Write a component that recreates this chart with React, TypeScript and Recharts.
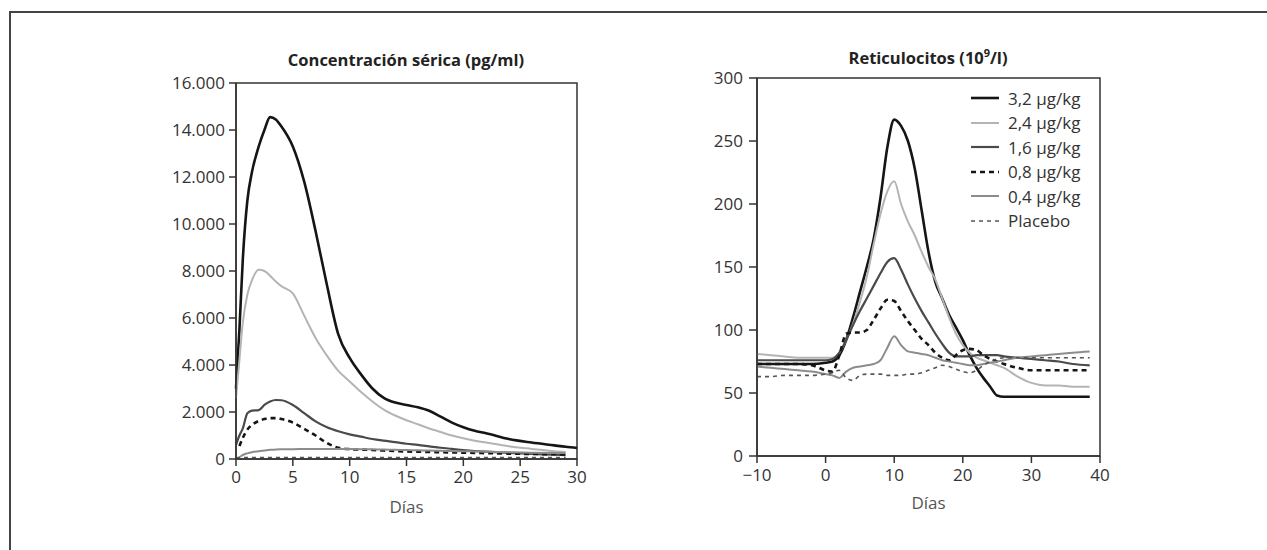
import React from 'react'
import {
  LineChart,
  Line,
  XAxis,
  YAxis,
  Legend,
  ReferenceArea
} from 'recharts'

// serum concentration (pg/ml), days 0-30
const serumDays = [
  0, 0.3, 0.6, 1, 1.4, 2, 2.5, 3, 3.5, 4, 5, 6, 7, 8, 9, 10, 11, 12, 13, 14,
  15, 16, 17, 18, 19, 20, 21, 22, 24, 26, 28, 29, 30
]
const serum32 = [
  3000, 5500, 8500, 11000, 12200, 13300, 14000, 14550, 14450, 14150, 13300,
  11800, 9700, 7400, 5300, 4300, 3600, 3000, 2600, 2400, 2300, 2200, 2050,
  1800, 1550, 1350, 1200, 1100, 850, 700, 580, 520, 470
]
const serum24 = [
  2600, 4200, 5800, 7000, 7600, 8050, 8000, 7800, 7550, 7350, 7050, 6100,
  5150, 4400, 3750, 3300, 2850, 2450, 2100, 1850, 1650, 1480, 1300, 1150,
  1000, 880, 780, 700, 540, 430, 330, 300, null
]
const serum16 = [
  600, 1000, 1300, 1950, 2060, 2080, 2300, 2450, 2510, 2500, 2300, 1950, 1600,
  1350, 1180, 1050, 950, 850, 780, 720, 650, 600, 540, 480, 430, 380, 340, 310,
  260, 220, 180, 160, null
]
const serum08 = [
  null, 550, 900, 1250, 1450, 1620, 1700, 1740, 1740, 1700, 1550, 1280, 1000,
  680, 480, 420, 400, 380, 360, 340, 320, 310, 300, 290, 280, 270, 260, 250,
  230, 215, 200, 195, null
]
const serum04 = [
  30, 80, 170, 240, 290, 330, 360, 390, 400, 410, 420, 425, 430, 430, 430, 425,
  420, 410, 400, 390, 380, 370, 360, 350, 340, 330, 320, 310, 290, 270, 255,
  250, null
]
const serumPlacebo = [
  40, 50, 55, 60, 60, 60, 60, 60, 60, 60, 60, 60, 60, 60, 60, 60, 60, 60, 60,
  60, 60, 60, 60, 60, 60, 60, 60, 60, 60, 60, 60, 60, null
]
const serumYTicks = [0, 2000, 4000, 6000, 8000, 10000, 12000, 14000, 16000]
const serumXTicks = [0, 5, 10, 15, 20, 25, 30]

// reticulocytes (10^9/l), days -10 to 40
const retDays = [
  -10, -8, -6, -4, -2, 0, 1, 2, 3, 4, 5, 6, 7, 8, 9, 10, 11, 12, 13, 14, 15,
  16, 17, 18, 19, 20, 21, 22, 23, 24, 25, 26, 28, 30, 32, 34, 36, 38.5
]
const ret32 = [
  73, 73, 73, 73, 73, 74, 75, 80, 92, 110, 130, 150, 172, 205, 245, 267, 262,
  250, 228, 195, 162, 138, 125, 112, 102, 92, 80, 70, 62, 55, 48, 47, 47, 47,
  47, 47, 47, 47
]
const ret24 = [
  81, 80, 79, 78, 78, 78, 78, 82, 92, 105, 122, 142, 168, 192, 210, 218, 200,
  186, 175, 162, 150, 140, 125, 110, 97, 88, 82, 78, 76, 74, 72, 70, 63, 58, 56,
  56, 55, 55
]
const ret16 = [
  76, 76, 76, 76, 76, 76, 77, 82, 92, 104, 115, 125, 135, 145, 154, 157, 148,
  136, 125, 115, 106, 97, 89, 82, 79, 79, 79, 80, 80, 80, 80, 79, 78, 77, 76,
  75, 73, 72
]
const ret08 = [
  73, 73, 73, 73, 72, 68, 67, 80, 97, 98, 98, 100, 108, 117, 124, 123, 115,
  107, 100, 93, 88, 82, 78, 76, 80, 84, 85, 84, 80, 77, 75, 73, 70, 68, 68, 68,
  68, 68
]
const ret04 = [
  71, 70, 69, 68, 67, 65, 64, 62, 67, 70, 71, 72, 73, 76, 86, 95, 88, 83, 82,
  81, 80, 78, 76, 75, 74, 73, 72, 72, 73, 74, 75, 76, 78, 79, 80, 81, 82, 83
]
const retPlacebo = [
  63, 63, 64, 64, 64, 65, 66, 68, 62, 60, 64, 65, 65, 65, 64, 64, 64, 65, 65,
  66, 68, 70, 72, 71, 69, 67, 66, 68, 72, 75, 77, 78, 78, 78, 78, 78, 78, 78
]
const retYTicks = [0, 50, 100, 150, 200, 250, 300]
const retXTicks = [-10, 0, 10, 20, 30, 40]

const seriesNames = [
  '3,2 µg/kg',
  '2,4 µg/kg',
  '1,6 µg/kg',
  '0,8 µg/kg',
  '0,4 µg/kg',
  'Placebo'
]

const FONT = '"Open Sans", "Noto Sans", sans-serif'
const AXIS = '#333'

const styles = [
  { key: 's32', color: '#151515', width: 2.6, dash: undefined },
  { key: 's24', color: '#b4b4b4', width: 2, dash: undefined },
  { key: 's16', color: '#4a4a4a', width: 2.2, dash: undefined },
  { key: 's08', color: '#151515', width: 2.6, dash: '5 4' },
  { key: 's04', color: '#8c8c8c', width: 2, dash: undefined },
  { key: 'placebo', color: '#555', width: 1.6, dash: '4 4' }
]

const toRows = (days: number[], cols: (number | null)[][]) =>
  days.map((d, i) => {
    const row: Record<string, number | null> = { day: d }
    styles.forEach((s, j) => {
      row[s.key] = cols[j][i]
    })
    return row
  })

const serumData = toRows(serumDays, [
  serum32,
  serum24,
  serum16,
  serum08,
  serum04,
  serumPlacebo
])
const retData = toRows(retDays, [ret32, ret24, ret16, ret08, ret04, retPlacebo])

const thousands = (v: number) =>
  String(v).replace(/\B(?=(\d{3})+(?!\d))/g, '.')
const minus = (v: number) => (v < 0 ? `\u2212${Math.abs(v)}` : String(v))

const tickStyle = { fill: '#333', fontSize: 17, fontFamily: FONT }
const diasStyle = { fill: '#555', fontSize: 17, fontFamily: FONT }

const LegendBox = () => (
  <div style={{ fontFamily: FONT, fontSize: 17, color: '#333' }}>
    {styles.map((s, i) => (
      <div
        key={s.key}
        style={{ display: 'flex', alignItems: 'center', height: 24.5 }}
      >
        <svg width={30} height={10} style={{ marginRight: 8 }}>
          <line
            x1={1}
            y1={5}
            x2={29}
            y2={5}
            stroke={s.color}
            strokeWidth={s.width}
            strokeDasharray={s.dash}
          />
        </svg>
        <span>{seriesNames[i]}</span>
      </div>
    ))}
  </div>
)

const titleStyle: React.CSSProperties = {
  position: 'absolute',
  fontFamily: FONT,
  fontWeight: 700,
  fontSize: 16.5,
  color: '#222',
  textAlign: 'center',
  width: 400
}

export default function App() {
  return (
    <div
      style={{
        position: 'absolute',
        left: 0,
        top: 0,
        width: 1267,
        height: 550,
        background: '#fff',
        overflow: 'hidden'
      }}
    >
      <div
        style={{
          position: 'absolute',
          left: 9,
          top: 11,
          width: 1300,
          height: 600,
          borderTop: '2px solid #444',
          borderLeft: '2px solid #444'
        }}
      />

      <div style={{ ...titleStyle, left: 206, top: 48 }}>
        Concentración sérica (pg/ml)
      </div>
      <div style={{ ...titleStyle, left: 728, top: 45 }}>
        Reticulocitos (10<sup style={{ fontSize: 11 }}>9</sup>/l)
      </div>

      <div style={{ position: 'absolute', left: 150, top: 40 }}>
        <LineChart
          width={450}
          height={490}
          data={serumData}
          margin={{ top: 43, right: 23, bottom: 41, left: 10 }}
        >
          <XAxis
            dataKey="day"
            type="number"
            domain={[0, 30]}
            ticks={serumXTicks}
            tick={tickStyle}
            tickSize={7}
            tickMargin={5}
            height={30}
            stroke={AXIS}
            strokeWidth={1.5}
            label={{
              value: 'Días',
              position: 'bottom',
              offset: 12,
              style: diasStyle
            }}
          />
          <YAxis
            type="number"
            domain={[0, 16000]}
            ticks={serumYTicks}
            tick={tickStyle}
            tickSize={7}
            tickMargin={4}
            width={76}
            stroke={AXIS}
            strokeWidth={1.5}
            tickFormatter={thousands}
          />
          <ReferenceArea
            x1={0}
            x2={30}
            y1={0}
            y2={16000}
            fill="none"
            stroke={AXIS}
            strokeWidth={1.5}
          />
          {styles.map((s) => (
            <Line
              key={s.key}
              dataKey={s.key}
              type="monotone"
              stroke={s.color}
              strokeWidth={s.width}
              strokeDasharray={s.dash}
              dot={false}
              isAnimationActive={false}
            />
          ))}
        </LineChart>
      </div>

      <div style={{ position: 'absolute', left: 670, top: 40 }}>
        <LineChart
          width={450}
          height={490}
          data={retData}
          margin={{ top: 38, right: 20, bottom: 44, left: 10 }}
        >
          <XAxis
            dataKey="day"
            type="number"
            domain={[-10, 40]}
            ticks={retXTicks}
            tick={tickStyle}
            tickSize={7}
            tickMargin={6}
            height={30}
            stroke={AXIS}
            strokeWidth={1.5}
            tickFormatter={minus}
            label={{
              value: 'Días',
              position: 'bottom',
              offset: 11,
              style: diasStyle
            }}
          />
          <YAxis
            type="number"
            domain={[0, 300]}
            ticks={retYTicks}
            tick={tickStyle}
            tickSize={8}
            tickMargin={6}
            width={77}
            stroke={AXIS}
            strokeWidth={1.5}
          />
          <ReferenceArea
            x1={-10}
            x2={40}
            y1={0}
            y2={300}
            fill="none"
            stroke={AXIS}
            strokeWidth={1.5}
          />
          {styles.map((s) => (
            <Line
              key={s.key}
              dataKey={s.key}
              type="monotone"
              stroke={s.color}
              strokeWidth={s.width}
              strokeDasharray={s.dash}
              dot={false}
              isAnimationActive={false}
            />
          ))}
          <Legend
            layout="vertical"
            align="center"
            verticalAlign="middle"
            content={LegendBox}
            wrapperStyle={{ left: 300, top: 46, width: 'auto' }}
          />
        </LineChart>
      </div>
    </div>
  )
}
